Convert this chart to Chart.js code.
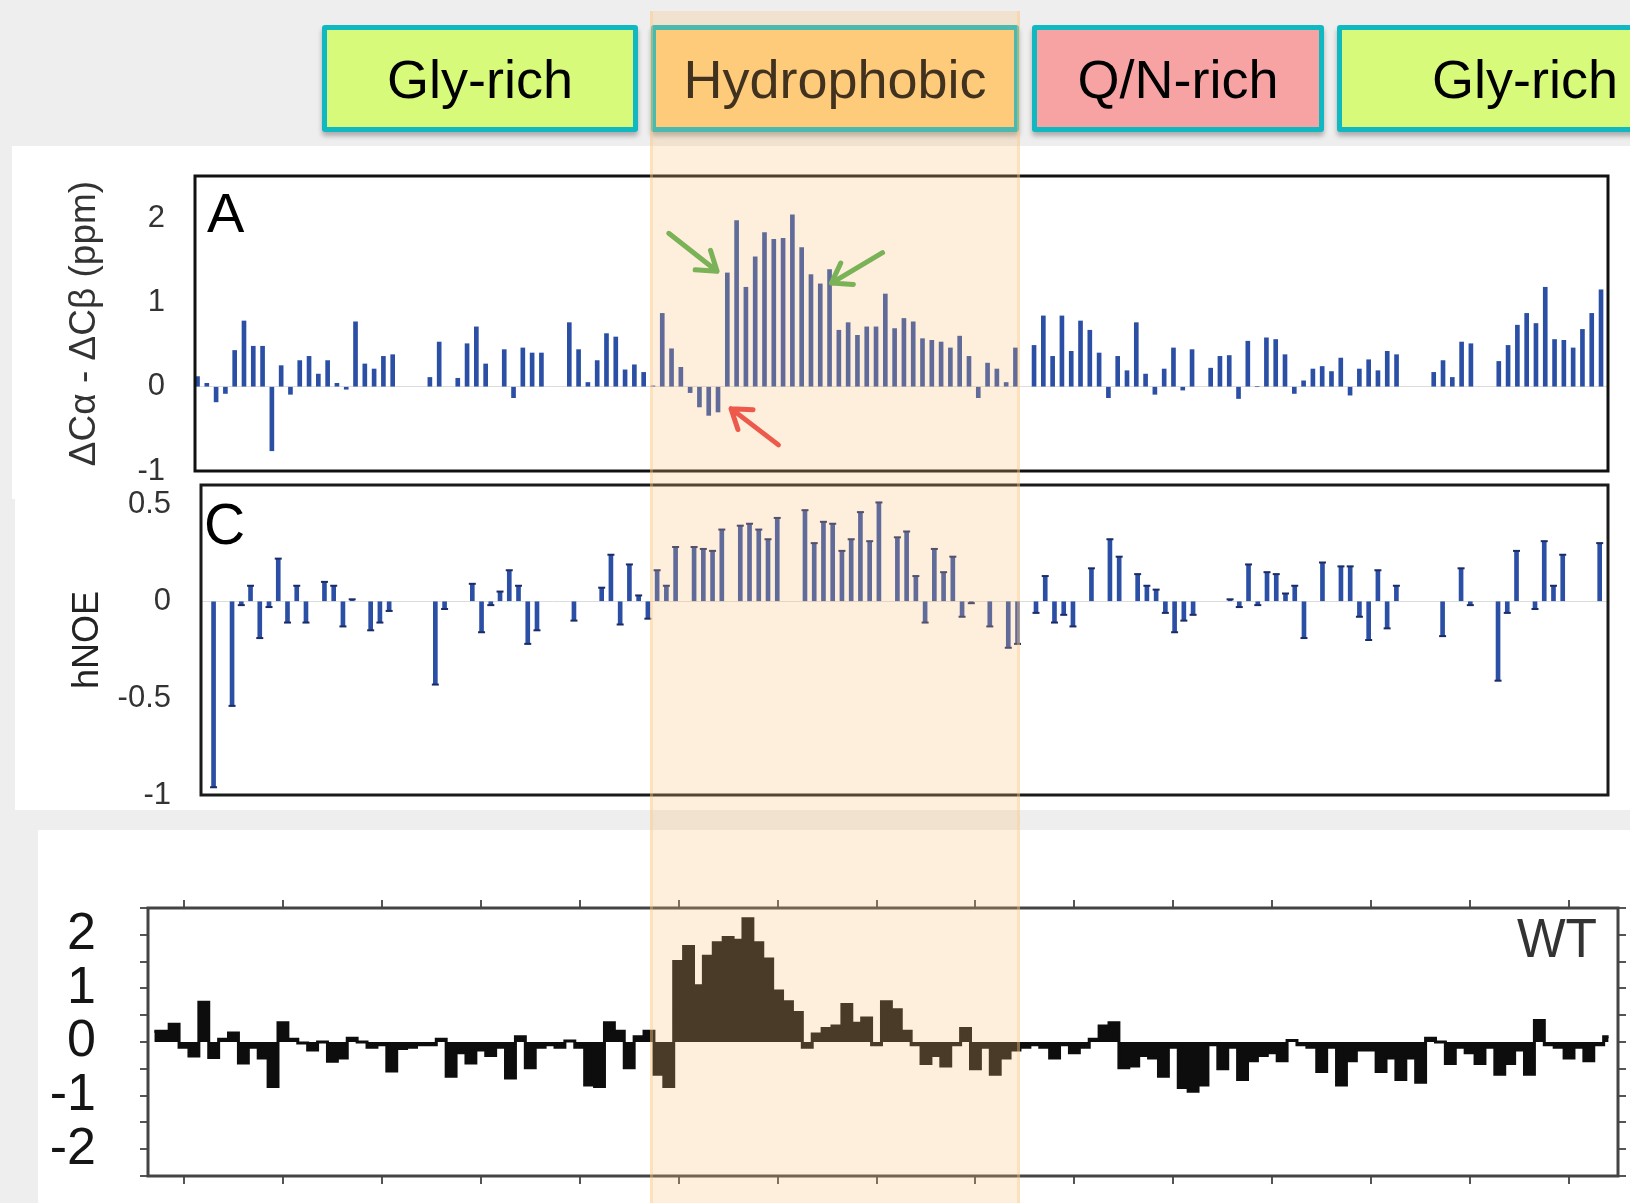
<!DOCTYPE html>
<html>
<head>
<meta charset="utf-8">
<script src="https://cdn.jsdelivr.net/npm/chart.js@4.4.0/dist/chart.umd.min.js"></script>
<style>
  html, body { margin: 0; padding: 0; }
  body {
    width: 1630px; height: 1203px; position: relative; overflow: hidden;
    background: #eeeeee; font-family: "Liberation Sans", Arial, sans-serif;
  }
  .panel { position: absolute; background: #fff; z-index: 0; }
  canvas { position: absolute; left: 0; top: 0; z-index: 1; }
  .region {
    position: absolute; top: 25px; height: 107px; box-sizing: border-box;
    border: 5px solid #10b8c1; border-radius: 3px;
    box-shadow: 0 4px 5px rgba(0, 0, 0, 0.28);
    display: flex; align-items: center; justify-content: center;
    font-size: 54px; color: #000; z-index: 2; white-space: nowrap;
  }
  .tag { position: absolute; line-height: 1; z-index: 2; }
  #band {
    position: absolute; left: 650px; top: 11px; width: 370px; height: 1192px;
    box-sizing: border-box; z-index: 3;
    background: rgba(252, 190, 120, 0.26);
    border-left: 3px solid rgba(252, 200, 130, 0.35);
    border-right: 3px solid rgba(252, 200, 130, 0.35);
  }
</style>
</head>
<body>

<div class="panel" style="left:12px; top:146px; width:1618px; height:353px;"></div>
<div class="panel" style="left:15px; top:499px; width:1615px; height:311px;"></div>
<div class="panel" style="left:38px; top:830px; width:1592px; height:373px;"></div>

<canvas id="shiftChart" width="1630" height="1203"></canvas>
<canvas id="noeChart" width="1630" height="1203"></canvas>
<canvas id="wtChart" width="1630" height="1203"></canvas>

<div class="region" style="left:322px; width:316px; background:#d7fa7a;">Gly-rich</div>
<div class="region" style="left:651px; width:368px; background:#ffd07c;">Hydrophobic</div>
<div class="region" style="left:1032px; width:292px; background:#f7a3a3;">Q/N-rich</div>
<div class="region" style="left:1337px; width:376px; background:#d7fa7a;">Gly-rich</div>

<div class="tag" style="left:207px; top:185px; font-size:56px; color:#000;">A</div>
<div class="tag" style="left:204px; top:496px; font-size:57px; color:#000;">C</div>
<div class="tag" style="right:33px; top:910px; font-size:56px; color:#333; transform:scaleX(0.92); transform-origin:right;">WT</div>

<div id="band"></div>

<script>
    "use strict";

    var fontFamily = '"Liberation Sans", Arial, sans-serif';
    Chart.defaults.font.family = fontFamily;
    Chart.defaults.animation = false;

    // panel A: secondary shift per residue slot (null = no peak)
    var shiftValues = [
        0.12, 0.04, -0.18, -0.08, 0.43, 0.78, 0.48, 0.48, -0.76, 0.25,
        -0.09, 0.31, 0.36, 0.15, 0.31, 0.04, -0.03, 0.77, 0.27, 0.21,
        0.36, 0.38, null, null, null, 0.11, 0.53, null, 0.10, 0.51,
        0.71, 0.27, null, 0.44, -0.13, 0.46, 0.40, 0.40, null, null,
        0.76, 0.44, 0.05, 0.31, 0.63, 0.59, 0.20, 0.26, 0.17, 0.01,
        0.87, 0.45, 0.23, -0.07, -0.24, -0.34, -0.30, 1.35, 1.97, 1.18,
        1.54, 1.83, 1.75, 1.76, 2.04, 1.65, 1.33, 1.22, 1.39, 0.67,
        0.76, 0.61, 0.71, 0.71, 1.10, 0.69, 0.81, 0.77, 0.57, 0.55,
        0.53, 0.46, 0.60, 0.36, -0.13, 0.28, 0.21, 0.05, 0.46, null,
        0.49, 0.84, 0.36, 0.84, 0.42, 0.78, 0.67, 0.40, -0.13, 0.36,
        0.19, 0.76, 0.15, -0.09, 0.21, 0.46, -0.04, 0.44, null, 0.22,
        0.36, 0.37, -0.14, 0.54, 0.00, 0.58, 0.56, 0.38, -0.08, 0.07,
        0.21, 0.24, 0.18, 0.34, -0.10, 0.21, 0.32, 0.19, 0.42, 0.38,
        null, null, null, 0.17, 0.31, 0.11, 0.53, 0.51, null, null,
        0.30, 0.49, 0.73, 0.87, 0.75, 1.18, 0.56, 0.55, 0.46, 0.68,
        0.87, 1.15
    ];
    var shiftTicks = [-1, 0, 1, 2];

    // panel C: heteronuclear NOE per residue slot
    var noeValues = [
        -0.96, null, -0.54, -0.02, 0.08, -0.19, -0.03, 0.22, -0.11, 0.08,
        -0.11, null, 0.10, 0.08, -0.13, 0.01, null, -0.15, -0.11, -0.05,
        null, null, null, null, -0.43, -0.04, null, null, 0.09, -0.16,
        -0.02, 0.05, 0.16, 0.08, -0.22, -0.15, null, null, null, -0.10,
        null, null, 0.07, 0.24, -0.12, 0.19, 0.03, -0.09, 0.16, 0.08,
        0.28, null, 0.28, 0.27, 0.26, 0.37, null, 0.39, 0.40, 0.37,
        0.32, 0.43, null, null, 0.47, 0.30, 0.41, 0.40, 0.26, 0.32,
        0.46, 0.31, 0.51, null, 0.33, 0.36, 0.13, -0.11, 0.27, 0.15,
        0.23, -0.08, -0.01, null, -0.13, null, -0.24, -0.22, null, -0.06,
        0.13, -0.11, -0.07, -0.13, null, 0.17, null, 0.32, 0.23, null,
        0.14, 0.08, 0.06, -0.06, -0.16, -0.10, -0.07, null, null, null,
        0.01, -0.03, 0.19, -0.02, 0.15, 0.14, 0.04, 0.08, -0.19, null,
        0.20, null, 0.18, 0.18, -0.08, -0.20, 0.16, -0.14, 0.08, null,
        null, null, null, -0.18, null, 0.17, -0.02, null, null, -0.41,
        -0.06, 0.26, null, -0.04, 0.31, 0.08, 0.24, null, null, null,
        0.30
    ];
    var noeTicks = [-1, -0.5, 0, 0.5];

    // bottom panel: WT profile, residues 267-414
    var wtFirstResidue = 267;
    var wtProfile = [
        0.2, 0.2, 0.33, -0.1, -0.26, 0.74, -0.29, 0.05, 0.17, -0.39,
        -0.1, -0.3, -0.83, 0.36, 0.05, -0.02, -0.15, 0.0, -0.36, -0.3,
        0.07, 0.0, -0.1, -0.05, -0.54, -0.12, -0.1, -0.05, -0.05, 0.05,
        -0.64, -0.2, -0.39, -0.15, -0.25, -0.1, -0.67, 0.1, -0.48, -0.1,
        -0.05, -0.1, 0.02, -0.1, -0.8, -0.83, 0.36, 0.2, -0.48, 0.1,
        0.2, -0.6, -0.83, 1.5, 1.78, 1.05, 1.6, 1.85, 1.95, 1.9,
        2.3, 1.85, 1.55, 0.95, 0.75, 0.55, -0.1, 0.15, 0.25, 0.3,
        0.7, 0.35, 0.45, -0.05, 0.75, 0.6, 0.2, -0.05, -0.4, -0.25,
        -0.45, -0.05, 0.25, -0.5, -0.1, -0.6, -0.3, -0.15, -0.1, -0.05,
        -0.1, -0.3, -0.05, -0.2, -0.1, 0.05, 0.3, 0.36, -0.48, -0.45,
        -0.25, -0.3, -0.64, -0.1, -0.85, -0.92, -0.8, -0.05, -0.5, -0.1,
        -0.7, -0.35, -0.25, -0.2, -0.35, 0.03, -0.05, -0.1, -0.55, -0.1,
        -0.8, -0.35, -0.15, -0.15, -0.55, -0.3, -0.7, -0.3, -0.75, 0.07,
        0.0, -0.4, -0.1, -0.2, -0.4, -0.1, -0.6, -0.4, -0.15, -0.6,
        0.4, -0.05, -0.1, -0.3, -0.1, -0.35, -0.05, 0.1
    ];
    var wtXTicks = [270, 280, 290, 300, 310, 320, 330, 340, 350, 360, 370, 380, 390, 400, 410];
    var wtYTicks = [-2.5, -2, -1.5, -1, -0.5, 0, 0.5, 1, 1.5, 2, 2.5];

    // arrows in panel A, in data units (slot, ppm)
    var arrowNotes = [
        { from: [50.7, 1.82], to: [55.9, 1.37], color: '#4cae4c' },
        { from: [73.7, 1.59], to: [68.2, 1.23], color: '#4cae4c' },
        { from: [62.5, -0.69], to: [57.4, -0.26], color: '#e8383d' }
    ];

    var barBlue = '#2b4fa5';

    // box round the plot area
    var framePlugin = {
        id: 'frame',
        afterDraw: function (chart, args, opts) {
            var a = chart.chartArea;
            var ctx = chart.ctx;
            ctx.save();
            ctx.strokeStyle = opts.color || '#000';
            ctx.lineWidth = opts.width || 3;
            ctx.strokeRect(a.left, a.top, a.right - a.left, a.bottom - a.top);
            ctx.restore();
        }
    };

    var arrowPlugin = {
        id: 'arrows',
        afterDatasetsDraw: function (chart) {
            var ctx = chart.ctx;
            var xs = chart.scales.x, ys = chart.scales.y;
            ctx.save();
            ctx.lineWidth = 5;
            ctx.lineCap = 'round';
            ctx.lineJoin = 'round';
            arrowNotes.forEach(function (n) {
                var x0 = xs.getPixelForValue(n.from[0]), y0 = ys.getPixelForValue(n.from[1]);
                var x1 = xs.getPixelForValue(n.to[0]), y1 = ys.getPixelForValue(n.to[1]);
                var ang = Math.atan2(y1 - y0, x1 - x0);
                var head = 22;
                ctx.strokeStyle = n.color;
                ctx.beginPath();
                ctx.moveTo(x0, y0);
                ctx.lineTo(x1, y1);
                ctx.moveTo(x1 - head * Math.cos(ang - 0.6), y1 - head * Math.sin(ang - 0.6));
                ctx.lineTo(x1, y1);
                ctx.lineTo(x1 - head * Math.cos(ang + 0.6), y1 - head * Math.sin(ang + 0.6));
                ctx.stroke();
            });
            ctx.restore();
        }
    };

    function zeroLine(c) {
        return c.tick && c.tick.value === 0 ? '#dcdcdc' : 'rgba(0,0,0,0)';
    }
    function plainLabel(v) { return String(v); }
    // no extra room for the end labels
    function noOverflow(s) { s.paddingTop = 0; s.paddingBottom = 0; }

    // Panel A
    new Chart(document.getElementById('shiftChart'), {
        type: 'bar',
        data: {
            datasets: [{
                data: shiftValues.map(function (v, i) { return { x: i, y: v }; }),
                backgroundColor: barBlue,
                barThickness: 4
            }]
        },
        options: {
            responsive: false,
            layout: { padding: { left: 0, top: 176, right: 22, bottom: 732 } },
            plugins: { legend: { display: false }, tooltip: { enabled: false }, frame: { color: '#111', width: 3 } },
            scales: {
                x: { type: 'linear', min: -0.27, max: 151.75, offset: false, display: false },
                y: {
                    min: -1, max: 2.5,
                    afterBuildTicks: function (s) { s.ticks = shiftTicks.map(function (v) { return { value: v }; }); },
                    afterFit: function (s) { s.width = 195; noOverflow(s); },
                    ticks: { font: { size: 31 }, color: '#333', padding: 30, callback: plainLabel },
                    grid: { drawTicks: false, color: zeroLine },
                    border: { display: false },
                    title: {
                        display: true, text: 'ΔCα - ΔCβ (ppm)', color: '#333',
                        font: { size: 37 }, padding: { top: 63, bottom: 0 }
                    }
                }
            }
        },
        plugins: [framePlugin, arrowPlugin]
    });

    // Panel C
    var noePoints = noeValues.map(function (v, i) { return { x: i, y: v }; });
    new Chart(document.getElementById('noeChart'), {
        type: 'bar',
        data: {
            datasets: [{
                data: noePoints,
                backgroundColor: barBlue,
                barThickness: 4,
                order: 2
            }, {
                type: 'line',
                data: noePoints,
                showLine: false,
                pointStyle: 'line',
                pointRadius: 3.5,
                borderColor: '#1b2b66',
                borderWidth: 2,
                order: 1
            }]
        },
        options: {
            responsive: false,
            layout: { padding: { left: 0, top: 485, right: 22, bottom: 408 } },
            plugins: { legend: { display: false }, tooltip: { enabled: false }, frame: { color: '#1a1a1a', width: 3 } },
            scales: {
                x: { type: 'linear', min: -1.36, max: 150.9, offset: false, display: false },
                y: {
                    min: -1, max: 0.6,
                    afterBuildTicks: function (s) { s.ticks = noeTicks.map(function (v) { return { value: v }; }); },
                    afterFit: function (s) { s.width = 201; noOverflow(s); },
                    ticks: { font: { size: 31 }, color: '#333', padding: 30, callback: plainLabel },
                    grid: { drawTicks: false, color: zeroLine },
                    border: { display: false },
                    title: {
                        display: true, text: 'hNOE', color: '#222',
                        font: { size: 36 }, padding: { top: 66, bottom: 0 }
                    }
                }
            }
        },
        plugins: [framePlugin]
    });

    // WT profile panel
    var tickGrid = { drawOnChartArea: false, drawTicks: true, tickLength: 8, color: '#555', lineWidth: 2 };
    function wtX(pos) {
        return {
            type: 'linear', position: pos, min: 266.36, max: 414.95, offset: false,
            afterBuildTicks: function (s) { s.ticks = wtXTicks.map(function (v) { return { value: v }; }); },
            afterFit: function (s) { s.height = 10; s.paddingLeft = 0; s.paddingRight = 0; },
            ticks: { display: false },
            grid: tickGrid,
            border: { display: false }
        };
    }
    function wtY(pos, labels) {
        return {
            position: pos, min: -2.5, max: 2.5,
            afterBuildTicks: function (s) { s.ticks = wtYTicks.map(function (v) { return { value: v }; }); },
            afterFit: function (s) { s.width = labels ? 148 : 10; noOverflow(s); },
            ticks: {
                display: labels, autoSkip: false, padding: 44,
                font: { size: 52 }, color: '#151515',
                callback: function (v) { return Number.isInteger(v) ? String(v) : ''; }
            },
            grid: tickGrid,
            border: { display: false }
        };
    }

    new Chart(document.getElementById('wtChart'), {
        type: 'line',
        data: {
            datasets: [{
                data: wtProfile.map(function (v, i) { return { x: wtFirstResidue + i, y: v }; }),
                stepped: 'middle',
                fill: 'origin',
                backgroundColor: '#0d0d0d',
                borderColor: '#0d0d0d',
                borderWidth: 3,
                pointRadius: 0
            }]
        },
        options: {
            responsive: false,
            layout: { padding: { left: 0, top: 898, right: 2, bottom: 17 } },
            plugins: { legend: { display: false }, tooltip: { enabled: false }, frame: { color: '#444', width: 3 } },
            scales: {
                x: wtX('bottom'),
                x2: wtX('top'),
                y: wtY('left', true),
                y2: wtY('right', false)
            }
        },
        plugins: [framePlugin]
    });
</script>
</body>
</html>
